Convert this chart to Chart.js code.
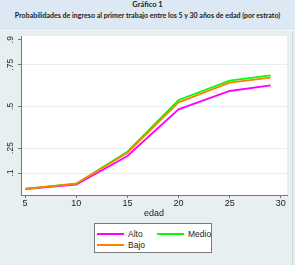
<!DOCTYPE html>
<html>
<head>
<meta charset="utf-8">
<script src="https://cdn.jsdelivr.net/npm/chart.js@4/dist/chart.umd.min.js"></script>
<style>
  html, body { margin: 0; padding: 0; }
  body { width: 295px; height: 265px; position: relative; overflow: hidden; background: #e7eff1; }
  #band { position: absolute; left: 0; top: 0; width: 295px; height: 30px; background: #dce8f3; border-bottom: 1px solid #f2f7fa; }
  .t { position: absolute; left: 0; width: 295px; text-align: center; font-family: Lato, "Open Sans", sans-serif; font-weight: bold; color: #222; white-space: nowrap; }
  #t1 { top: 0px; font-size: 7.5px; line-height: 10px; }
  #t2 { top: 10px; font-size: 7px; line-height: 10px; }
  #strip { position: absolute; left: 292px; top: 31px; width: 1px; height: 234px; background: #c9d2d6; }
  canvas { position: absolute; left: 0; top: 0; }
  #legend { position: absolute; left: 94px; top: 223px; width: 118px; height: 30px; background: #fff; border: 1px solid #7a7a7a; box-sizing: border-box; font-family: "Liberation Sans", Arial, sans-serif; font-size: 8.5px; color: #222; }
  .li { position: absolute; height: 10px; line-height: 10px; }
  .sw { position: absolute; top: 4px; width: 27px; height: 2px; }
  .lt { position: absolute; left: 31px; top: 0; }
</style>
</head>
<body>
<div id="band"></div>
<div class="t" id="t1">Gráfico 1</div>
<div class="t" id="t2">Probabilidades de ingreso al primer trabajo entre los 5 y 30 años de edad (por estrato)</div>
<div id="strip"></div>
<canvas id="c" width="295" height="265"></canvas>
<div id="legend"></div>
<script>
// ---- data ----
const edad = [5, 10, 15, 20, 25, 29];
const alto  = [0.004, 0.030, 0.202, 0.482, 0.592, 0.626];
const medio = [0.005, 0.036, 0.228, 0.538, 0.654, 0.686];
const bajo  = [0.005, 0.036, 0.222, 0.524, 0.642, 0.672];
const seriesNames = ["Alto", "Medio", "Bajo"];
const seriesColors = ["#ff00ff", "#00ff00", "#ff8000"];
const yTicks = [0.1, 0.25, 0.5, 0.75, 0.9];
const yTickLabels = [".1", ".25", ".5", ".75", ".9"];
const xTicks = [5, 10, 15, 20, 25, 30];

// fit subtitle width
(function(){
  const el = document.getElementById('t2');
  const span = document.createElement('span'); span.textContent = el.textContent;
  el.textContent = ''; el.appendChild(span);
  const w = span.getBoundingClientRect().width;
  const fs = 7 * 266 / w;
  el.style.fontSize = fs + 'px';
})();

// legend
(function(){
  const lg = document.getElementById('legend');
  const pos = [[2, 5], [62, 5], [2, 16]];
  seriesNames.forEach((n, i) => {
    const d = document.createElement('div'); d.className = 'li';
    d.style.left = pos[i][0] + 'px'; d.style.top = pos[i][1] + 'px';
    d.innerHTML = '<div class="sw" style="background:' + seriesColors[i] + '"></div><div class="lt">' + n + '</div>';
    lg.appendChild(d);
  });
})();

const data = [alto, medio, bajo];
const plotBg = {
  id: 'plotBg',
  beforeDraw(chart) {
    const {ctx, chartArea: a} = chart;
    ctx.save(); ctx.fillStyle = '#ffffff';
    ctx.fillRect(a.left, a.top, a.right - a.left, a.bottom - a.top);
    ctx.restore();
  },
  afterDraw(chart) {
    const {ctx} = chart; const y = chart.scales.y;
    ctx.save();
    ctx.font = '8.5px "Liberation Sans", Arial, sans-serif';
    ctx.fillStyle = '#222'; ctx.textAlign = 'center'; ctx.textBaseline = 'middle';
    yTicks.forEach((v, i) => {
      const py = y.getPixelForValue(v);
      ctx.save(); ctx.translate(10.5, py); ctx.rotate(-Math.PI / 2);
      ctx.fillText(yTickLabels[i], 0, 0); ctx.restore();
    });
    ctx.restore();
  }
};

new Chart(document.getElementById('c'), {
  type: 'line',
  data: {
    datasets: seriesNames.map((n, i) => ({
      label: n,
      data: edad.map((x, j) => ({x: x, y: data[i][j]})),
      borderColor: seriesColors[i],
      backgroundColor: seriesColors[i],
      borderWidth: 1.8,
      pointRadius: 0,
      tension: 0,
      order: 3 - i
    }))
  },
  options: {
    responsive: false,
    animation: false,
    devicePixelRatio: 1,
    layout: { padding: { left: 0, right: 8, top: 36, bottom: 46 } },
    plugins: { legend: { display: false }, title: { display: false }, tooltip: { enabled: false } },
    scales: {
      x: {
        type: 'linear', min: 4.6, max: 30.6,
        afterBuildTicks: s => { s.ticks = xTicks.map(v => ({value: v})); },
        afterFit: s => { s.height = 24; },
        ticks: { font: { family: '"Liberation Sans", Arial, sans-serif', size: 9 }, color: '#222', padding: 0, maxRotation: 0, callback: v => String(v) },
        grid: { drawOnChartArea: false, drawTicks: true, tickLength: 3, tickColor: '#777' },
        border: { display: true, color: '#777', width: 1 },
        title: { display: true, text: 'edad', font: { family: '"Liberation Sans", Arial, sans-serif', size: 9 }, color: '#222', padding: 0 }
      },
      y: {
        type: 'linear', min: -0.032, max: 0.922,
        afterBuildTicks: s => { s.ticks = yTicks.map(v => ({value: v})); },
        afterFit: s => { s.width = 21; },
        ticks: { display: false },
        grid: { drawTicks: true, tickLength: 3, tickColor: '#777',
                 color: ctx => (ctx.tick && ctx.tick.value === 0.9) ? 'rgba(0,0,0,0)' : '#e9eeee', lineWidth: 1 },
        border: { display: true, color: '#777', width: 1 }
      }
    }
  },
  plugins: [plotBg]
});
</script>
</body>
</html>
